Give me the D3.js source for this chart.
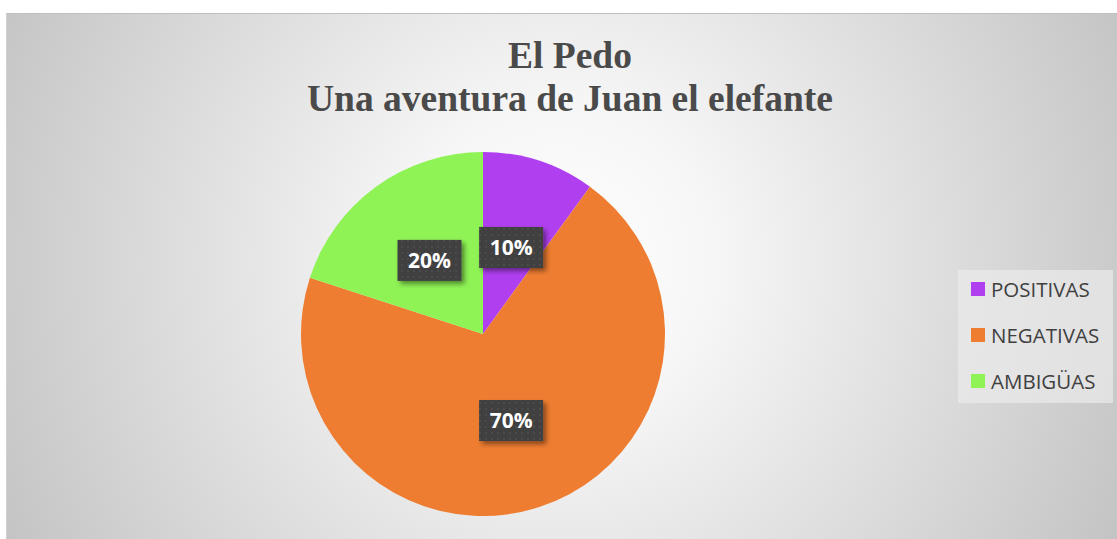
<!DOCTYPE html>
<html><head><meta charset="utf-8">
<script src="https://cdn.jsdelivr.net/npm/d3@7"></script>
<style>html,body{margin:0;padding:0;background:#fff;}svg{display:block;}</style>
</head><body>
<svg id="c" width="1117" height="539"></svg>
<script>
const categories = ["POSITIVAS", "NEGATIVAS", "AMBIGÜAS"];
const values = [10, 70, 20];
const colors = ["#b03ff0", "#ee7d31", "#8ff355"];
const titleLines = ["El Pedo", "Una aventura de Juan el elefante"];

const svg = d3.select("#c");
const defs = svg.append("defs");
const rg = defs.append("radialGradient").attr("id","bg")
  .attr("gradientUnits","userSpaceOnUse").attr("cx",560).attr("cy",260).attr("r",620);
rg.append("stop").attr("offset","0").attr("stop-color","#ffffff");
rg.append("stop").attr("offset","0.25").attr("stop-color","#f6f6f6");
rg.append("stop").attr("offset","1").attr("stop-color","#c4c4c4");

const pat = defs.append("pattern").attr("id","dots").attr("width",6).attr("height",6).attr("patternUnits","userSpaceOnUse");
pat.append("rect").attr("width",6).attr("height",6).attr("fill","#404040");
pat.append("rect").attr("x",2).attr("y",2).attr("width",2).attr("height",2).attr("fill","#4c4c4c");

const sh = defs.append("filter").attr("id","shadow").attr("x","-20%").attr("y","-20%").attr("width","160%").attr("height","160%");
sh.append("feGaussianBlur").attr("in","SourceAlpha").attr("stdDeviation",2.5);
sh.append("feOffset").attr("dx",3).attr("dy",3).attr("result","b");
sh.append("feComponentTransfer").append("feFuncA").attr("type","linear").attr("slope",0.45);
const m = sh.append("feMerge"); m.append("feMergeNode"); m.append("feMergeNode").attr("in","SourceGraphic");

svg.append("rect").attr("x",7).attr("y",13).attr("width",1110).attr("height",526).attr("fill","url(#bg)");
svg.append("line").attr("x1",6).attr("x2",1117).attr("y1",13.5).attr("y2",13.5).attr("stroke","#bfbfbf");
svg.append("line").attr("x1",6.5).attr("x2",6.5).attr("y1",13).attr("y2",539).attr("stroke","#d0d0d0");

svg.append("g").selectAll("text").data(titleLines).join("text")
  .attr("x",570).attr("y",(d,i)=>68+i*43).attr("text-anchor","middle")
  .attr("font-family","'Liberation Serif', 'Times New Roman', serif").attr("font-weight","bold")
  .attr("font-size",37.5).attr("fill","#4a4a4a").text(d=>d);

const cx=483, cy=334, R=182;
const pie = d3.pie().sort(null).value(d=>d);
const arcs = pie(values);
const arc = d3.arc().innerRadius(0).outerRadius(R);
const g = svg.append("g").attr("transform",`translate(${cx},${cy})`);
g.selectAll("path").data(arcs).join("path").attr("d",arc).attr("fill",(d,i)=>colors[i]);

const total = d3.sum(values);
const lg = svg.append("g").attr("transform",`translate(${cx},${cy})`);
arcs.forEach((a,i)=>{
  const [x,y]=arc.centroid(a);
  const w=64,h=41;
  lg.append("rect").attr("x",x-w/2).attr("y",y-h/2).attr("width",w).attr("height",h)
    .attr("fill","url(#dots)").attr("filter","url(#shadow)");
  lg.append("text").attr("x",x).attr("y",y+7.5).attr("text-anchor","middle")
    .attr("font-family","'Open Sans', sans-serif").attr("font-weight","bold").attr("font-size",21)
    .attr("fill","#ffffff").text(Math.round(values[i]/total*100)+"%");
});

svg.append("rect").attr("x",958).attr("y",270).attr("width",155).attr("height",133).attr("fill","#ebebeb").attr("opacity",0.7);
const leg = svg.append("g");
categories.forEach((c,i)=>{
  const y = 289 + i*46;
  leg.append("rect").attr("x",971).attr("y",y-7).attr("width",14).attr("height",14).attr("fill",colors[i]);
  leg.append("text").attr("x",991).attr("y",y+7.5).attr("font-family","'Open Sans', sans-serif")
    .attr("font-size",20.5).attr("fill","#404040").text(c);
});
</script>
</body></html>
